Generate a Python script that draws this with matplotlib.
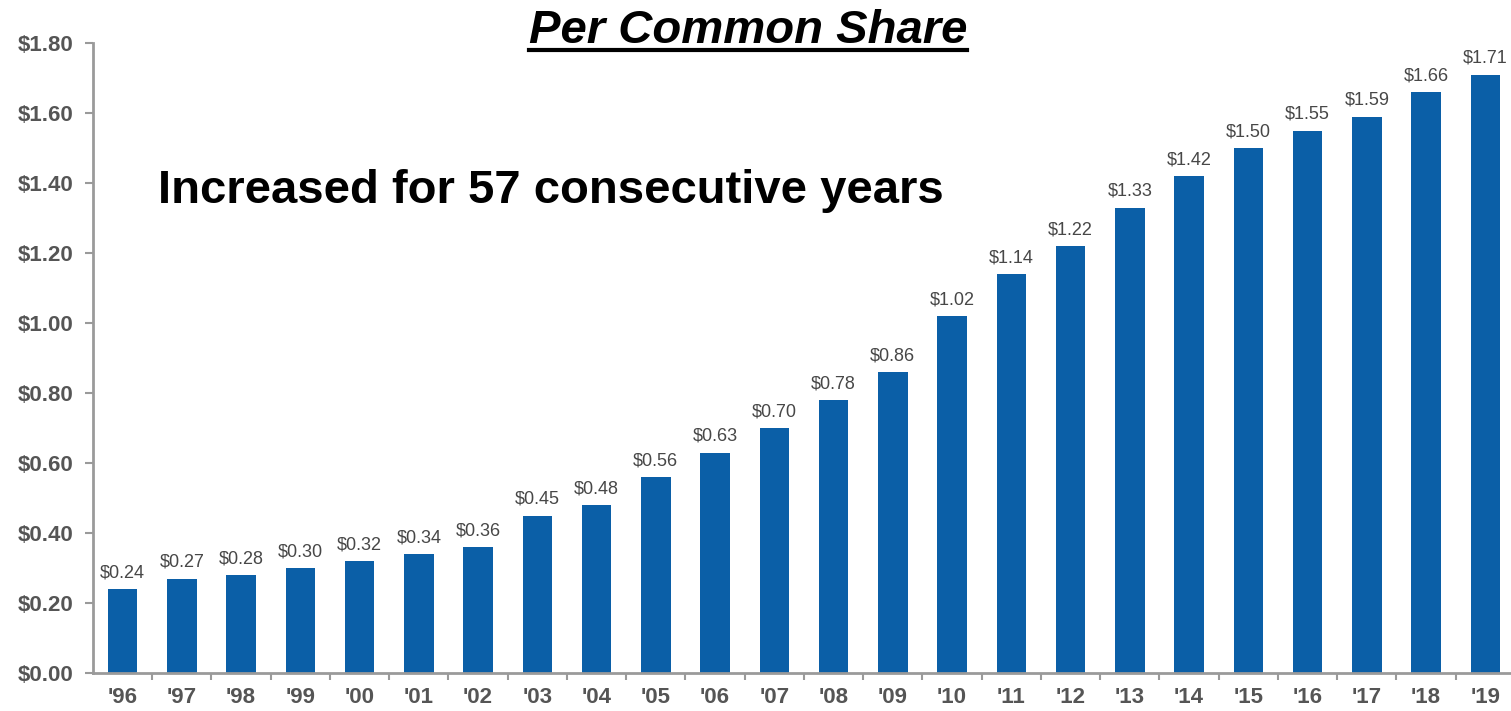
import matplotlib.pyplot as plt
from matplotlib.lines import Line2D

years = ["'96", "'97", "'98", "'99", "'00", "'01", "'02", "'03", "'04", "'05",
         "'06", "'07", "'08", "'09", "'10", "'11", "'12", "'13", "'14", "'15",
         "'16", "'17", "'18", "'19"]
dividends = [0.24, 0.27, 0.28, 0.30, 0.32, 0.34, 0.36, 0.45, 0.48, 0.56,
             0.63, 0.70, 0.78, 0.86, 1.02, 1.14, 1.22, 1.33, 1.42, 1.50,
             1.55, 1.59, 1.66, 1.71]
y_ticks = [0.0, 0.2, 0.4, 0.6, 0.8, 1.0, 1.2, 1.4, 1.6, 1.8]

BAR_COLOR = "#0b5fa7"
AXIS_GREY = "#9a9a9a"
LABEL_GREY = "#555555"

plt.rcParams["font.family"] = ["Liberation Sans", "DejaVu Sans"]


def plot_dividends():
    fig = plt.figure(figsize=(15.11, 7.11), dpi=100)
    W, H = 1511, 711
    # axes run a little past the right edge of the figure
    ax = fig.add_axes([93 / W, 38 / H, 1422 / W, 630 / H])

    x = range(len(years))
    ax.bar(x, dividends, width=0.5, color=BAR_COLOR, zorder=2)

    for i, v in enumerate(dividends):
        ax.text(i, v + 0.022, f"${v:.2f}", ha="center", va="bottom",
                fontsize=13, color="#474747")

    ax.set_xlim(-0.5, len(years) - 0.5)
    ax.set_ylim(0, 1.8)

    ax.set_yticks(y_ticks)
    ax.set_yticklabels([f"${t:.2f}" for t in y_ticks], fontsize=16,
                       color=LABEL_GREY, fontweight="bold")
    ax.set_xticks(list(x))
    ax.set_xticklabels(years, fontsize=16, color=LABEL_GREY, fontweight="bold")
    ax.set_xticks([i + 0.5 for i in range(len(years) - 1)], minor=True)

    ax.tick_params(axis="x", which="major", length=0, pad=10)
    ax.tick_params(axis="x", which="minor", length=5, width=1.5,
                   color=AXIS_GREY, direction="out")
    ax.tick_params(axis="y", length=6, width=1.5, color=AXIS_GREY,
                   direction="out", pad=8)

    for side in ["top", "right"]:
        ax.spines[side].set_visible(False)
    for side in ["left", "bottom"]:
        ax.spines[side].set_color(AXIS_GREY)
        ax.spines[side].set_linewidth(2)

    title = fig.text(748 / W, 1 - 43 / H, "Per Common Share", ha="center",
                     va="baseline", fontsize=34, fontweight="bold",
                     fontstyle="italic", color="black")
    fig.text(158 / W, 1 - 203 / H, "Increased for 57 consecutive years",
             ha="left", va="baseline", fontsize=34, fontweight="bold",
             color="black")

    # underline the title
    fig.canvas.draw()
    bb = title.get_window_extent().transformed(fig.transFigure.inverted())
    fig.add_artist(Line2D([bb.x0, bb.x1], [1 - 50 / H, 1 - 50 / H],
                          transform=fig.transFigure, color="black", lw=3))

    fig.savefig("out.png", dpi=100)


if __name__ == "__main__":
    plot_dividends()
